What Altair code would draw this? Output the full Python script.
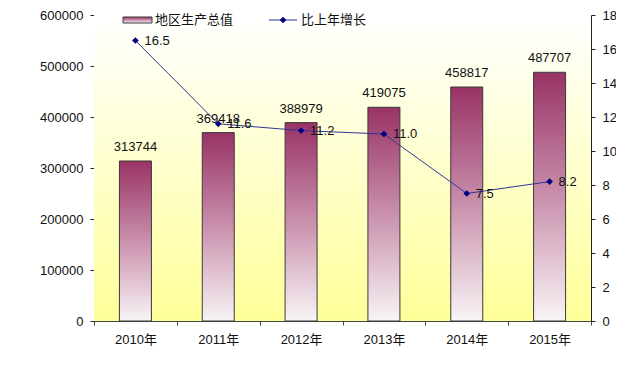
import altair as alt
import pandas as pd

years = ["2010年", "2011年", "2012年", "2013年", "2014年", "2015年"]
gdp = [313744, 369418, 388979, 419075, 458817, 487707]
growth = [16.5, 11.6, 11.2, 11.0, 7.5, 8.2]
legend_labels = ["地区生产总值", "比上年增长"]
left_ticks = [0, 100000, 200000, 300000, 400000, 500000, 600000]
right_ticks = [0, 2, 4, 6, 8, 10, 12, 14, 16, 18]

df = pd.DataFrame({"year": years, "gdp": gdp, "growth": growth})
one = pd.DataFrame({"a": [0]})

W, H = 497, 306
FONT = "Liberation Sans, Noto Sans CJK SC, sans-serif"

bg_grad = alt.Gradient(
    gradient="linear",
    stops=[alt.GradientStop(color="#FFFFFF", offset=0),
           alt.GradientStop(color="#FFFFF0", offset=0.15),
           alt.GradientStop(color="#FFFF99", offset=1)],
    x1=0, x2=0, y1=0, y2=1,
)
bar_grad = alt.Gradient(
    gradient="linear",
    stops=[alt.GradientStop(color="#993366", offset=0),
           alt.GradientStop(color="#C990AC", offset=0.5),
           alt.GradientStop(color="#F8F4F6", offset=1)],
    x1=0, x2=0, y1=0, y2=1,
)

xs = alt.Scale(paddingInner=0, paddingOuter=0)
xax = alt.Axis(labelAngle=0, tickBand="extent", tickSize=4,
               labelPadding=8, domainColor="#444", tickColor="#444")
xenc = alt.X("year:N", sort=years, title=None, scale=xs, axis=xax)

bg = alt.Chart(one).mark_rect(fill=bg_grad).encode(
    x=alt.value(0), x2=alt.value(W), y=alt.value(0), y2=alt.value(H)
)

ls = alt.Scale(domain=[0, 600000], nice=False)
lax = alt.Axis(values=left_ticks, format="d", orient="left",
               tickSize=4, labelPadding=7, labelOverlap=False)
yl = alt.Y("gdp:Q", title=None, scale=ls, axis=lax)
bars = alt.Chart(df).mark_bar(fill=bar_grad, stroke="#3A3A3A", strokeWidth=1, size=32).encode(
    x=xenc, y=yl
)
bar_text = alt.Chart(df).mark_text(baseline="bottom", dy=-7, fontSize=13, font=FONT, color="#111").encode(
    x=xenc, y=yl, text=alt.Text("gdp:Q", format="d")
)
left = alt.layer(bars, bar_text)

rs = alt.Scale(domain=[0, 18], nice=False)
rax = alt.Axis(values=right_ticks, orient="right", tickSize=4,
               labelPadding=7, labelOverlap=False, format="d")
yr = alt.Y("growth:Q", title=None, scale=rs, axis=rax)
line = alt.Chart(df).mark_line(color="#333399", strokeWidth=1).encode(
    x=xenc, y=yr
)
pts = alt.Chart(df).mark_point(shape="diamond", filled=True, size=45, color="#000080", opacity=1).encode(
    x=xenc, y=yr
)
line_text = alt.Chart(df).mark_text(align="left", baseline="middle", dx=9, fontSize=13, font=FONT, color="#111").encode(
    x=xenc, y=yr, text=alt.Text("growth:Q", format=".1f")
)
right = alt.layer(line, pts, line_text)

# legend
leg_rect = alt.Chart(one).mark_rect(fill=bar_grad, stroke="#3A3A3A", strokeWidth=1).encode(
    x=alt.value(29), x2=alt.value(58), y=alt.value(2), y2=alt.value(8)
)
leg_t1 = alt.Chart(one).mark_text(align="left", baseline="middle", fontSize=13, font=FONT, color="#111").encode(
    x=alt.value(61), y=alt.value(5), text=alt.value(legend_labels[0])
)
leg_line = alt.Chart(one).mark_rule(color="#333399", strokeWidth=1).encode(
    x=alt.value(175), x2=alt.value(203), y=alt.value(5)
)
leg_pt = alt.Chart(one).mark_point(shape="diamond", filled=True, size=45, color="#000080", opacity=1).encode(
    x=alt.value(189), y=alt.value(5)
)
leg_t2 = alt.Chart(one).mark_text(align="left", baseline="middle", fontSize=13, font=FONT, color="#111").encode(
    x=alt.value(207), y=alt.value(5), text=alt.value(legend_labels[1])
)
legend = alt.layer(leg_rect, leg_t1, leg_line, leg_pt, leg_t2)

chart = alt.layer(bg, left, right, legend).resolve_scale(y="independent").properties(
    width=W, height=H,
    padding={"left": 86, "top": 7, "right": 25, "bottom": 39},
    autosize=alt.AutoSizeParams(type="none"),
).configure_view(strokeWidth=0).configure_axis(
    grid=False, labelFont=FONT, labelFontSize=13, labelColor="#111",
    domainColor="#222", tickColor="#222",
)

chart.save("out.html", embed_options={"renderer": "svg", "actions": False})
